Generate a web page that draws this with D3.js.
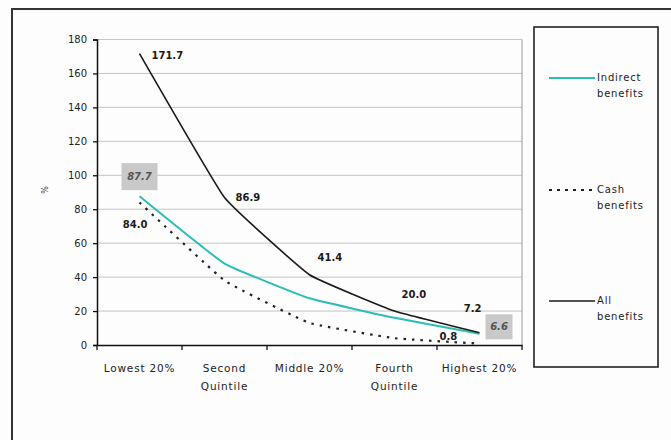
<!DOCTYPE html>
<html>
<head>
<meta charset="utf-8">
<script src="https://cdn.jsdelivr.net/npm/d3@7"></script>
<style>
  html, body { margin: 0; padding: 0; background: #fdfdfd; }
  svg { display: block; font-family: "DejaVu Sans", Verdana, sans-serif; }
</style>
</head>
<body>
<svg id="chart" width="671" height="440"></svg>
<script>
// Benefits as % of income, by income quintile
const categories = ["Lowest 20%", "Second\nQuintile", "Middle 20%", "Fourth\nQuintile", "Highest 20%"];
const indirectBenefits = [87.7, 48, 27.5, 16, 6.6];
const cashBenefits = [84.0, 38, 13, 4, 0.8];
const allBenefits = [171.7, 86.9, 41.4, 20.0, 7.2];
const yTicks = [0, 20, 40, 60, 80, 100, 120, 140, 160, 180];
const legendLabels = [["Indirect", "benefits"], ["Cash", "benefits"], ["All", "benefits"]];

const svg = d3.select("#chart");

// outer frame (only top and left edges fall inside the page)
svg.append("path")
  .attr("d", "M12,440 L12,9 L671,9")
  .attr("fill", "none").attr("stroke", "#333").attr("stroke-width", 2);

const plot = { left: 97, right: 522, top: 39.5, bottom: 345 };
const x = d3.scaleBand().domain(categories).range([plot.left, plot.right]);
const y = d3.scaleLinear().domain([0, 180]).range([plot.bottom, plot.top]);
const cx = i => x(categories[i]) + x.bandwidth() / 2;

// gridlines
svg.append("g").selectAll("line").data(yTicks.filter(d => d > 0)).join("line")
  .attr("x1", plot.left).attr("x2", plot.right)
  .attr("y1", d => y(d)).attr("y2", d => y(d))
  .attr("stroke", "#c4c4c4").attr("stroke-width", 1);
svg.append("line")
  .attr("x1", plot.right).attr("x2", plot.right)
  .attr("y1", plot.top).attr("y2", plot.bottom)
  .attr("stroke", "#9a9a9a").attr("stroke-width", 1);

// y axis
const yAxis = svg.append("g").attr("transform", `translate(${plot.left},0)`)
  .call(d3.axisLeft(y).tickValues(yTicks).tickSize(4).tickPadding(6));
yAxis.select(".domain").attr("stroke", "#111").attr("stroke-width", 1.5);
yAxis.selectAll(".tick line").attr("stroke", "#111").attr("stroke-width", 1.3);
yAxis.selectAll("text").attr("font-size", 10).attr("fill", "#222")
  .attr("font-family", "'DejaVu Sans', Verdana, sans-serif");

svg.append("text")
  .attr("transform", "translate(48,190) rotate(-90)")
  .attr("text-anchor", "middle").attr("font-size", 8).attr("fill", "#444")
  .text("%");

// x axis
const xAxis = svg.append("g").attr("transform", `translate(0,${plot.bottom})`)
  .call(d3.axisBottom(x).tickSize(0).tickFormat(""));
xAxis.select(".domain").attr("stroke", "#111").attr("stroke-width", 1.5);
const bounds = categories.map(c => x(c)).concat([plot.right]);
svg.append("g").selectAll("line").data(bounds).join("line")
  .attr("x1", d => d).attr("x2", d => d)
  .attr("y1", plot.bottom).attr("y2", plot.bottom + 5)
  .attr("stroke", "#111").attr("stroke-width", 1.3);

const catLabels = svg.append("g").selectAll("text").data(categories).join("text")
  .attr("text-anchor", "middle").attr("font-size", 10.5).attr("letter-spacing", 0.8)
  .attr("fill", "#222")
  .attr("x", (d, i) => cx(i)).attr("y", 372);
catLabels.selectAll("tspan").data(d => d.split("\n")).join("tspan")
  .attr("x", function() { return d3.select(this.parentNode).attr("x"); })
  .attr("dy", (d, i) => i === 0 ? 0 : 18)
  .text(d => d);

// lines
const line = d3.line().x((d, i) => cx(i)).y(d => y(d)).curve(d3.curveCardinal.tension(0.7));

svg.append("path").datum(cashBenefits).attr("d", line)
  .attr("fill", "none").attr("stroke", "#222").attr("stroke-width", 2.2)
  .attr("stroke-dasharray", "2.5,6");
svg.append("path").datum(indirectBenefits).attr("d", line)
  .attr("fill", "none").attr("stroke", "#2bbdb8").attr("stroke-width", 2);
svg.append("path").datum(allBenefits).attr("d", line)
  .attr("fill", "none").attr("stroke", "#1a1a1a").attr("stroke-width", 1.6);

// value labels
const lab = (i, v, dx, dy, anchor) =>
  svg.append("text").attr("x", cx(i) + dx).attr("y", y(v) + dy)
    .attr("text-anchor", anchor).attr("dominant-baseline", "middle")
    .attr("font-size", 10).attr("font-weight", "bold").attr("fill", "#1a1a1a")
    .text(v.toFixed(1));

lab(0, allBenefits[0], 12, 2, "start");
lab(1, allBenefits[1], 11, 0, "start");
lab(2, allBenefits[2], 8, -17, "start");
lab(3, allBenefits[3], 7, -16, "start");
lab(4, allBenefits[4], 2, -24, "end");
lab(0, cashBenefits[0], 8, 23, "end");
lab(4, cashBenefits[4], -40, -7, "start");

// boxed labels for the indirect series
const boxLab = (i, v, dx, dy, w, h) => {
  const bx = cx(i) + dx, by = y(v) + dy;
  svg.append("rect").attr("x", bx - w / 2).attr("y", by - h / 2)
    .attr("width", w).attr("height", h).attr("fill", "#c9c9c9");
  svg.append("text").attr("x", bx).attr("y", by)
    .attr("text-anchor", "middle").attr("dominant-baseline", "middle")
    .attr("font-size", 10).attr("font-style", "italic").attr("font-weight", "bold")
    .attr("fill", "#555").text(v.toFixed(1));
};
boxLab(0, indirectBenefits[0], 0, -19.5, 36, 27);
boxLab(4, indirectBenefits[4], 19.5, -7, 27, 25);

// legend
svg.append("rect").attr("x", 534).attr("y", 27).attr("width", 124).attr("height", 340)
  .attr("fill", "none").attr("stroke", "#222").attr("stroke-width", 1.6);
const legendY = [78, 190, 301];
const legendStyles = [
  { stroke: "#2bbdb8", dash: null, width: 2 },
  { stroke: "#222", dash: "3,5", width: 2 },
  { stroke: "#1a1a1a", dash: null, width: 1.6 }
];
legendLabels.forEach((lines, k) => {
  const st = legendStyles[k];
  svg.append("line").attr("x1", 549).attr("x2", 595)
    .attr("y1", legendY[k]).attr("y2", legendY[k])
    .attr("stroke", st.stroke).attr("stroke-width", st.width)
    .attr("stroke-dasharray", st.dash);
  lines.forEach((t, j) => {
    svg.append("text").attr("x", 597).attr("y", legendY[k] + j * 16)
      .attr("dominant-baseline", "middle").attr("font-size", 10)
      .attr("letter-spacing", 0.8).attr("fill", "#222")
      .text(t);
  });
});
</script>
</body>
</html>
